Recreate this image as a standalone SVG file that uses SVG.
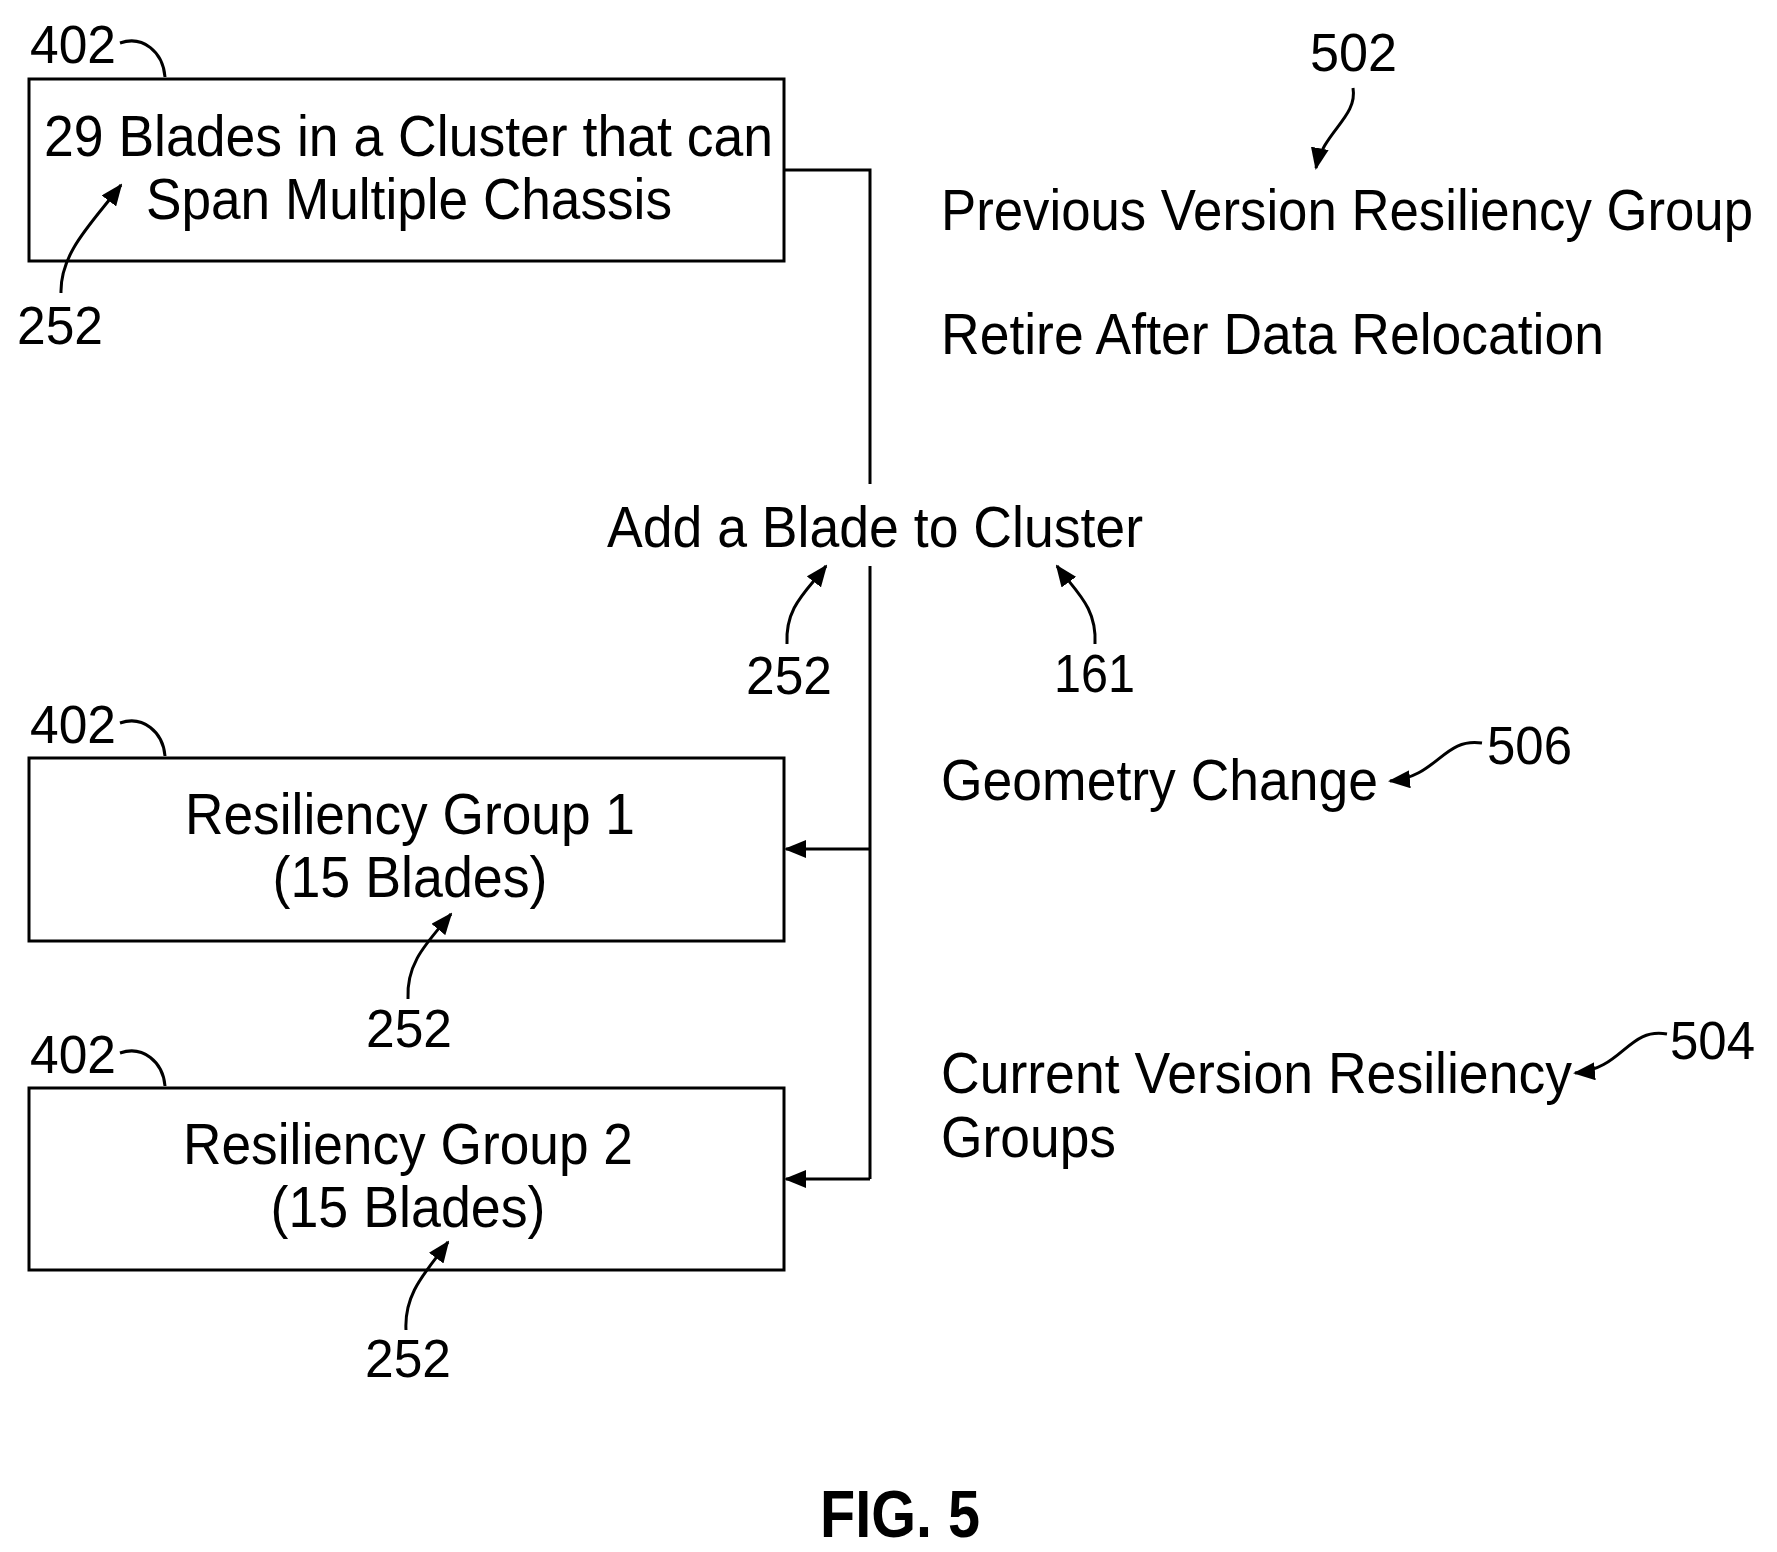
<svg xmlns="http://www.w3.org/2000/svg" width="1777" height="1552" viewBox="0 0 1777 1552">
<style>
.t{font-family:"Liberation Sans",Arial,sans-serif;font-size:58px;fill:#000}
.n{font-family:"Liberation Sans",Arial,sans-serif;font-size:54px;fill:#000}
.b{fill:#fff;stroke:#000;stroke-width:3}
.l{fill:none;stroke:#000;stroke-width:3}
</style>
<defs>
<marker id="A" markerWidth="22" markerHeight="18" refX="20" refY="9" orient="auto" markerUnits="userSpaceOnUse"><path d="M0,0 L22,9 L0,18 z" fill="#000"/></marker>
</defs>
<rect width="1777" height="1552" fill="#fff"/>
<g transform="translate(-2,-3)">
<g id="n1">
<rect class="b" x="31" y="82" width="755" height="182"/>
<text class="t" x="46" y="159" textLength="729" lengthAdjust="spacingAndGlyphs">29 Blades in a Cluster that can</text>
<text class="t" x="148" y="222" textLength="526" lengthAdjust="spacingAndGlyphs">Span Multiple Chassis</text>
<text class="n" x="32" y="66" textLength="86" lengthAdjust="spacingAndGlyphs">402</text>
<path class="l" d="M122,46 C145,38 165,55 167,80"/>
<path class="l" d="M63,296 C62,255 95,225 123,188" marker-end="url(#A)"/>
<text class="n" x="19" y="347" textLength="86" lengthAdjust="spacingAndGlyphs">252</text>
</g>
<g id="n2">
<rect class="b" x="31" y="761" width="755" height="183"/>
<text class="t" x="412" y="837" text-anchor="middle" textLength="450" lengthAdjust="spacingAndGlyphs">Resiliency Group 1</text>
<text class="t" x="412" y="900" text-anchor="middle" textLength="275" lengthAdjust="spacingAndGlyphs">(15 Blades)</text>
<text class="n" x="32" y="746" textLength="86" lengthAdjust="spacingAndGlyphs">402</text>
<path class="l" d="M122,726 C145,718 165,735 167,759"/>
<path class="l" d="M410,1002 C408,965 430,945 453,917" marker-end="url(#A)"/>
<text class="n" x="368" y="1050" textLength="86" lengthAdjust="spacingAndGlyphs">252</text>
</g>
<g id="n3">
<rect class="b" x="31" y="1091" width="755" height="182"/>
<text class="t" x="410" y="1167" text-anchor="middle" textLength="450" lengthAdjust="spacingAndGlyphs">Resiliency Group 2</text>
<text class="t" x="410" y="1230" text-anchor="middle" textLength="275" lengthAdjust="spacingAndGlyphs">(15 Blades)</text>
<text class="n" x="32" y="1076" textLength="86" lengthAdjust="spacingAndGlyphs">402</text>
<path class="l" d="M122,1056 C145,1048 165,1065 167,1089"/>
<path class="l" d="M408,1333 C406,1296 428,1275 450,1245" marker-end="url(#A)"/>
<text class="n" x="367" y="1380" textLength="86" lengthAdjust="spacingAndGlyphs">252</text>
</g>
<g id="connectors">
<path class="l" d="M786,173 H872 V487"/>
<path class="l" d="M872,569 V1182"/>
<path class="l" d="M872,852 H788" marker-end="url(#A)"/>
<path class="l" d="M872,1182 H788" marker-end="url(#A)"/>
</g>
<g id="labels">
<text class="n" x="1312" y="74" textLength="87" lengthAdjust="spacingAndGlyphs">502</text>
<path class="l" d="M1355,91 C1360,120 1325,135 1318,171" marker-end="url(#A)"/>
<text class="t" x="943" y="233" textLength="812" lengthAdjust="spacingAndGlyphs">Previous Version Resiliency Group</text>
<text class="t" x="943" y="357" textLength="663" lengthAdjust="spacingAndGlyphs">Retire After Data Relocation</text>
<text class="t" x="609" y="550" textLength="536" lengthAdjust="spacingAndGlyphs">Add a Blade to Cluster</text>
<path class="l" d="M789,647 C787,610 808,595 828,569" marker-end="url(#A)"/>
<text class="n" x="748" y="697" textLength="86" lengthAdjust="spacingAndGlyphs">252</text>
<path class="l" d="M1097,647 C1099,610 1078,595 1059,569" marker-end="url(#A)"/>
<text class="n" x="1056" y="695" textLength="81" lengthAdjust="spacingAndGlyphs">161</text>
<text class="t" x="943" y="803" textLength="437" lengthAdjust="spacingAndGlyphs">Geometry Change</text>
<path class="l" d="M1484,746 C1445,740 1440,780 1392,784" marker-end="url(#A)"/>
<text class="n" x="1489" y="767" textLength="85" lengthAdjust="spacingAndGlyphs">506</text>
<text class="t" x="943" y="1096" textLength="631" lengthAdjust="spacingAndGlyphs">Current Version Resiliency</text>
<text class="t" x="943" y="1160" textLength="175" lengthAdjust="spacingAndGlyphs">Groups</text>
<path class="l" d="M1669,1037 C1630,1030 1625,1072 1577,1076" marker-end="url(#A)"/>
<text class="n" x="1672" y="1062" textLength="85" lengthAdjust="spacingAndGlyphs">504</text>
<text x="822" y="1540" font-family="Liberation Sans,Arial,sans-serif" font-size="66" font-weight="bold" textLength="160" lengthAdjust="spacingAndGlyphs">FIG. 5</text>
</g>
</g>
</svg>
